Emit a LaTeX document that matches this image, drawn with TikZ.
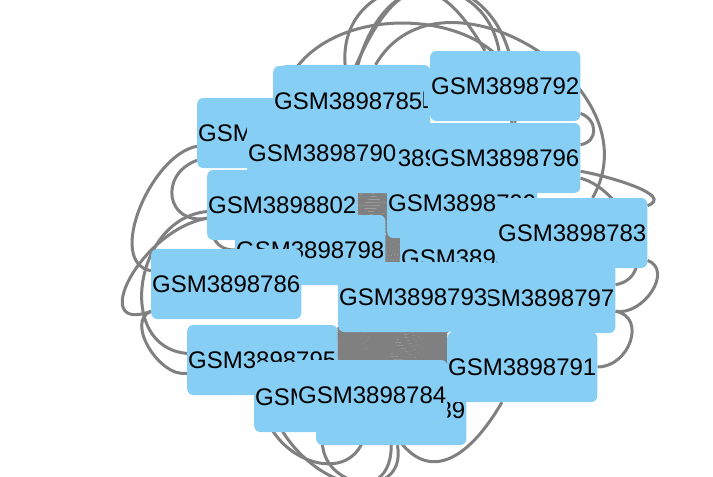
\documentclass[tikz,border=0pt]{standalone}
\usepackage{fontspec}
\setmainfont{Liberation Sans}
\usetikzlibrary{backgrounds}
\definecolor{nodeblue}{RGB}{135,206,245}
\definecolor{linkgray}{RGB}{128,128,128}
\begin{document}
\begin{tikzpicture}[x=1pt,y=-1pt,line join=bevel,
  gsm/.style={fill=nodeblue,rounded corners=6pt,minimum height=70pt,inner xsep=1pt,anchor=west,font=\fontsize{24}{24}\selectfont},
  link/.style={linkgray,line width=3pt}]
\useasboundingbox (0,0) rectangle (713,477);
%%
 \node (node_801) at (280,100) [gsm] {GSM3898801};
 \node (node_788) at (342,158) [gsm] {GSM3898788};
 \node (node_800) at (197,133) [gsm] {GSM3898800};
 \node (node_785) at (273,101) [gsm] {GSM3898785};
 \node (node_790) at (247,153) [gsm] {GSM3898790};
 \node (node_796) at (430,158) [gsm] {GSM3898796};
 \node (node_792) at (430,86) [gsm] {GSM3898792};
 \node (node_798) at (235,250) [gsm] {GSM3898798};
 \node (node_802) at (207,205) [gsm] {GSM3898802};
 \node (node_787) at (400,258) [gsm] {GSM3898787};
 \node (node_799) at (387,203) [gsm] {GSM3898799};
 \node (node_783) at (497,233) [gsm] {GSM3898783};
 \node (node_786) at (151,284) [gsm] {GSM3898786};
 \node (node_797) at (465,298) [gsm] {GSM3898797};
 \node (node_793) at (338,297) [gsm] {GSM3898793};
 \node (node_795) at (187,360) [gsm] {GSM3898795};
 \node (node_789) at (316,410) [gsm] {GSM3898789};
 \node (node_794) at (254,397) [gsm] {GSM3898794};
 \node (node_784) at (297,395) [gsm] {GSM3898784};
 \node (node_791) at (447,367) [gsm] {GSM3898791};
%
\begin{scope}[on background layer]
  % top
  \draw [link] (node_785) edge[out=95,in=100,looseness=1.6] (node_792);
  \draw [link] (node_800) edge[out=75,in=75,looseness=1.3] (node_796);
  \draw [link] (node_790) edge[out=70,in=120,looseness=2] (node_792);
  \draw [link] (node_801) edge[out=60,in=60,looseness=1.3] (node_783);
  \draw [link] (node_785) edge[out=75,in=80,looseness=2.2] (node_796);
  % left
  \draw [link] (node_800) edge[out=190,in=170,looseness=0.9] (node_786);
  \draw [link] (node_802) edge[out=185,in=175,looseness=1.3] (node_795);
  \draw [link] (node_790) edge[out=200,in=180,looseness=1.4] (node_798);
  \draw [link] (node_800) edge[out=200,in=190,looseness=1.8] (node_802);
  \draw [link] (node_786) edge[out=200,in=190,looseness=1] (node_795);
  \draw [link] (node_802) edge[out=190,in=200,looseness=1.6] (node_786);
  % right
  \draw [link] (node_792) edge[out=-20,in=10,looseness=1.5] (node_796);
  \draw [link] (node_796) edge[out=-10,in=20,looseness=1] (node_783);
  \draw [link] (node_797) edge[out=-10,in=0,looseness=1.4] (node_791);
  \draw [link] (node_783) edge[out=-20,in=-10,looseness=1.2] (node_797);
  \draw [link] (node_796) edge[out=-15,in=10,looseness=1.1] (node_797);
  % bottom
  \draw [link] (node_794) edge[out=-100,in=-80,looseness=2] (node_789);
  \draw [link] (node_795) edge[out=-90,in=-100,looseness=1.5] (node_784);
  \draw [link] (node_784) edge[out=-60,in=-120,looseness=1.5] (node_791);
  \draw [link] (node_795) edge[out=-80,in=-90,looseness=1.5] (node_789);
  % bundles
  \foreach \b in {-20,-18,...,20}
    \draw [link] (node_802) edge[bend left=\b] (node_799);
  \foreach \b in {-12,-10,...,12}
    \draw [link] (node_788) edge[bend left=\b] (node_784);
  \foreach \b in {0,1.5,...,24}
    \draw [link] (node_795) edge[bend left=\b] (node_791);
\end{scope}
\end{tikzpicture}
\end{document}
